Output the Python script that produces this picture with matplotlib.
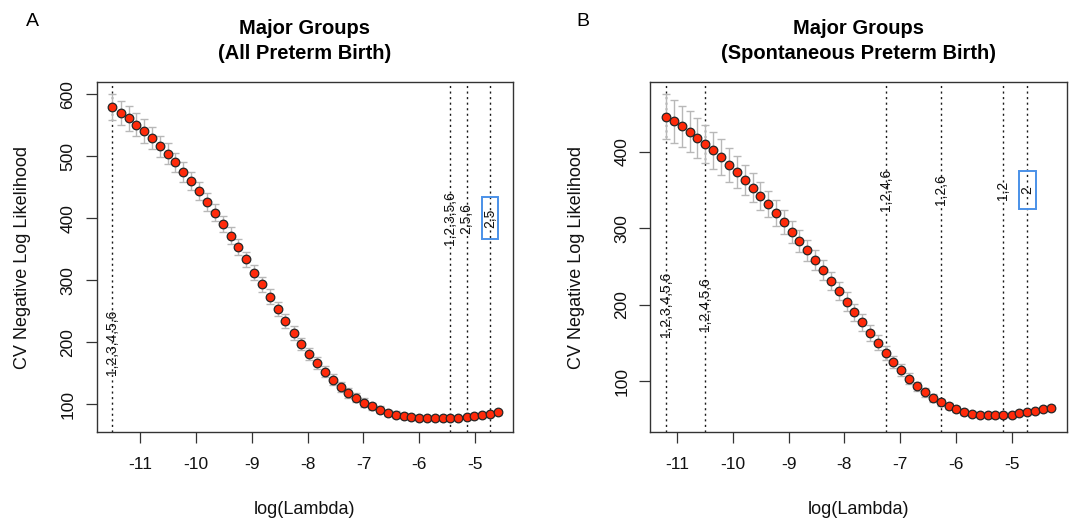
import matplotlib
matplotlib.use("Agg")
import matplotlib.pyplot as plt
from matplotlib.patches import Rectangle

plt.rcParams['font.family'] = ['Liberation Sans', 'DejaVu Sans']

# ---- Panel A: all preterm birth ----
log_lambda_a = [-11.50, -11.35, -11.21, -11.07, -10.93, -10.79, -10.65, -10.51, -10.37, -10.23,
                -10.09, -9.95, -9.80, -9.66, -9.52, -9.38, -9.24, -9.10, -8.96, -8.82,
                -8.68, -8.54, -8.40, -8.25, -8.11, -7.97, -7.83, -7.69, -7.55, -7.41,
                -7.27, -7.13, -6.99, -6.85, -6.70, -6.56, -6.42, -6.28, -6.14, -6.00,
                -5.86, -5.72, -5.58, -5.44, -5.30, -5.15, -5.01, -4.87, -4.73, -4.59]
cvm_a = [579, 570, 561, 551, 541, 530, 516, 504, 490, 475,
         460, 444, 426, 409, 391, 372, 353, 334, 312, 293,
         273, 253, 234, 215, 197, 181, 166, 152, 139, 128,
         118, 110, 102, 96, 91, 86, 83, 81, 79, 78,
         78, 78, 78, 78, 78, 79, 80, 82, 84, 87]
sd_a = [21, 20, 20, 19, 19, 18, 17, 17, 16, 16,
        15, 15, 14, 14, 13, 13, 13, 12, 12, 12,
        12, 11, 11, 11, 10, 10, 10, 9, 9, 8,
        8, 7, 7, 6, 6, 5, 5, 4, 4, 4,
        3, 3, 3, 3, 3, 3, 3, 3, 3, 4]
vlines_a = [-11.50, -5.44, -5.15, -4.73]
vlabels_a = ["1,2,3,4,5,6", "1,2,3,5,6", "2,5,6", "2,5"]
vlabel_y_a = [200, 400, 400, 400]

# ---- Panel B: spontaneous preterm birth ----
log_lambda_b = [-11.20, -11.06, -10.92, -10.78, -10.64, -10.50, -10.36, -10.21, -10.07, -9.93,
                -9.79, -9.65, -9.51, -9.37, -9.23, -9.09, -8.95, -8.81, -8.67, -8.52,
                -8.38, -8.24, -8.10, -7.96, -7.82, -7.68, -7.54, -7.40, -7.26, -7.12,
                -6.98, -6.84, -6.69, -6.55, -6.41, -6.27, -6.13, -5.99, -5.85, -5.71,
                -5.57, -5.43, -5.29, -5.15, -5.00, -4.86, -4.72, -4.58, -4.44, -4.30]
cvm_b = [446, 440, 433, 426, 418, 410, 402, 393, 383, 374,
         363, 353, 342, 331, 320, 308, 295, 283, 271, 258,
         245, 231, 218, 204, 190, 177, 163, 150, 137, 125,
         114, 103, 93, 85, 78, 72, 67, 63, 59, 57,
         56, 55, 55, 56, 56, 58, 59, 61, 63, 65]
sd_b = [29, 28, 27, 27, 26, 25, 24, 23, 22, 21,
        20, 19, 18, 17, 17, 16, 15, 14, 14, 13,
        13, 12, 12, 12, 11, 11, 10, 10, 9, 8,
        8, 7, 6, 6, 5, 5, 4, 4, 4, 3,
        3, 3, 3, 3, 3, 3, 3, 3, 3, 3]
vlines_b = [-11.20, -10.50, -7.26, -6.27, -5.15, -4.72]
vlabels_b = ["1,2,3,4,5,6", "1,2,4,5,6", "1,2,4,6", "1,2,6", "1,2", "2"]
vlabel_y_b = [200, 200, 350, 350, 350, 350]

BOX_COLOR = '#4a90e8'


def draw_panel(ax, x, y, sd, vlines, vlabels, vlabel_y, title, xlim, ylim, yticks,
               box_w, box_h):
    ax.errorbar(x, y, yerr=sd, fmt='none', ecolor='#b8b8b8', elinewidth=1,
                capsize=3, capthick=1, zorder=2)
    ax.plot(x, y, 'o', color='#ff2a0a', markeredgecolor='#262626',
            markersize=6.2, markeredgewidth=0.9, zorder=3)

    for xv, lab, yl in zip(vlines, vlabels, vlabel_y):
        ax.axvline(xv, color='#1a1a1a', linestyle=(0, (1.5, 2.5)), linewidth=1, zorder=1)
        ax.text(xv, yl, lab, rotation=90, ha='center', va='center', fontsize=10,
                color='#111111', zorder=4)

    # blue highlight box around the last label
    ax.add_patch(Rectangle((vlines[-1] - box_w / 2, vlabel_y[-1] - box_h / 2), box_w, box_h,
                           fill=False, edgecolor=BOX_COLOR, linewidth=1.4, zorder=5))

    ax.set_xlim(*xlim)
    ax.set_ylim(*ylim)
    ax.set_xticks([-11, -10, -9, -8, -7, -6, -5])
    ax.set_xticklabels(['-11', '-10', '-9', '-8', '-7', '-6', '-5'])
    ax.set_yticks(yticks)
    ax.tick_params(direction='out', length=8.2, width=0.9, color='#333333',
                   labelsize=12.5, labelcolor='#111111')
    ax.tick_params(axis='x', pad=10)
    ax.tick_params(axis='y', labelrotation=90, pad=7)
    for lbl in ax.get_yticklabels():
        lbl.set_va('center')
    for sp in ax.spines.values():
        sp.set_color('#333333')
        sp.set_linewidth(1)

    ax.set_xlabel('log(Lambda)', fontsize=13, labelpad=21, color='#111111')
    ax.set_ylabel('CV Negative Log Likelihood', fontsize=13, labelpad=21, color='#111111')
    ax.set_title(title, fontsize=14.5, fontweight='bold', pad=17, linespacing=1.35)


fig = plt.figure(figsize=(10.72, 5.21), dpi=100)
ax_a = fig.add_axes([0.0902, 0.1714, 0.3886, 0.6706])
ax_b = fig.add_axes([0.6066, 0.1714, 0.3890, 0.6706])

draw_panel(ax_a, log_lambda_a, cvm_a, sd_a, vlines_a, vlabels_a, vlabel_y_a,
           'Major Groups\n(All Preterm Birth)', (-11.78, -4.315), (55.3, 619.4),
           [100, 200, 300, 400, 500, 600], 0.30, 68)
draw_panel(ax_b, log_lambda_b, cvm_b, sd_b, vlines_b, vlabels_b, vlabel_y_b,
           'Major Groups\n(Spontaneous Preterm Birth)', (-11.485, -4.0), (33.7, 490.8),
           [100, 200, 300, 400], 0.30, 50)

fig.text(32 / 1072, 1 - 21 / 521, 'A', fontsize=14, ha='center', va='center')
fig.text(583 / 1072, 1 - 21 / 521, 'B', fontsize=14, ha='center', va='center')

fig.savefig('out.png', dpi=100)
